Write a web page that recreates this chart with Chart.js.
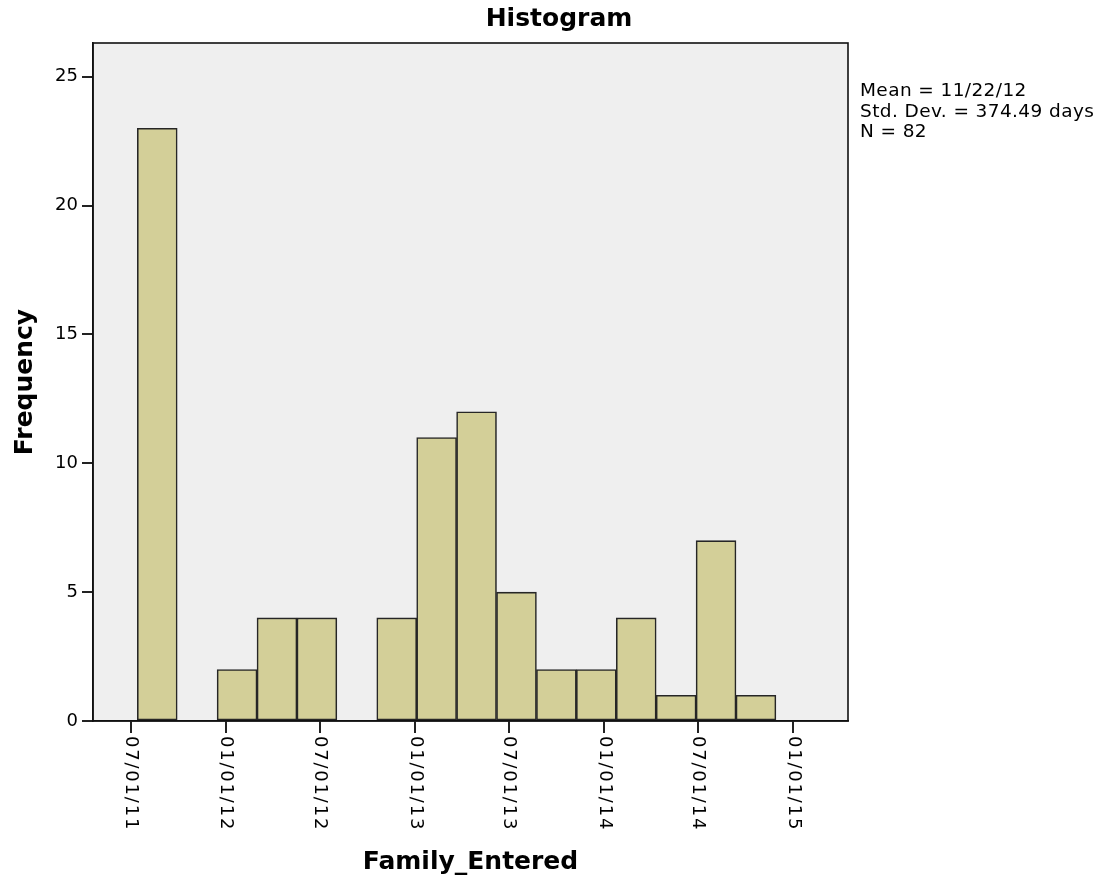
<!DOCTYPE html>
<html>
<head>
<meta charset="utf-8">
<script src="https://cdn.jsdelivr.net/npm/chart.js@4.4.1/dist/chart.umd.min.js"></script>
<style>
  html, body { margin: 0; padding: 0; background: #fff; }
</style>
</head>
<body>
<canvas id="histChart" width="1098" height="883"></canvas>
<script>
// x values are days after 07/01/11; each bin is about 77 days wide
var binCenters = [51.3, 128.4, 205.5, 282.6, 359.7, 436.8, 513.9, 591.0, 668.1, 745.2, 822.3, 899.4, 976.5, 1053.6, 1130.7, 1207.8];
var frequencies = [23, 0, 2, 4, 4, 0, 4, 11, 12, 5, 2, 2, 4, 1, 7, 1];

var dateTickValues = [0, 184, 366, 550, 731, 915, 1096, 1280];
var dateTickLabels = ["07/01/11", "01/01/12", "07/01/12", "01/01/13", "07/01/13", "01/01/14", "07/01/14", "01/01/15"];
var freqTickValues = [0, 5, 10, 15, 20, 25];

var statsLines = ["Mean = 11/22/12", "Std. Dev. = 374.49 days", "N = 82"];

var FONT = "'DejaVu Sans', sans-serif";

var points = binCenters.map(function (c, i) { return { x: c, y: frequencies[i] }; });

// grey plot background, frame, rotated date labels, title and stats box
var spssLook = {
  id: 'spssLook',
  beforeDraw: function (chart) {
    var a = chart.chartArea, ctx = chart.ctx;
    ctx.save();
    ctx.fillStyle = '#efefef';
    ctx.fillRect(a.left, a.top, a.right - a.left, a.bottom - a.top);
    ctx.restore();
  },
  afterDatasetsDraw: function (chart) {
    var a = chart.chartArea, ctx = chart.ctx;
    ctx.save();
    ctx.strokeStyle = '#111';
    ctx.lineWidth = 1.6;
    ctx.strokeRect(a.left, a.top, a.right - a.left, a.bottom - a.top);
    ctx.restore();
  },
  afterDraw: function (chart) {
    var ctx = chart.ctx, xs = chart.scales.x;
    ctx.save();
    ctx.fillStyle = '#000';
    ctx.font = '18px ' + FONT;
    ctx.letterSpacing = '1.8px';
    ctx.textAlign = 'left';
    ctx.textBaseline = 'middle';
    dateTickValues.forEach(function (v, i) {
      var px = xs.getPixelForValue(v);
      ctx.save();
      ctx.translate(px, xs.top + 15);
      ctx.rotate(Math.PI / 2);
      ctx.fillText(dateTickLabels[i], 0, 0);
      ctx.restore();
    });
    ctx.letterSpacing = '0px';

    ctx.font = 'bold 25px ' + FONT;
    ctx.textAlign = 'center';
    ctx.fillText('Histogram', 559, 19);

    ctx.font = '18.5px ' + FONT;
    ctx.letterSpacing = '0.4px';
    ctx.textAlign = 'left';
    statsLines.forEach(function (t, i) {
      ctx.fillText(t, 860, 91 + i * 20.7);
    });
    ctx.restore();
  }
};

new Chart(document.getElementById('histChart').getContext('2d'), {
  type: 'bar',
  data: {
    datasets: [{
      data: points,
      backgroundColor: '#d3cf98',
      borderColor: '#262626',
      borderWidth: 1.6,
      borderSkipped: false,
      barPercentage: 1,
      categoryPercentage: 1
    }]
  },
  options: {
    responsive: false,
    animation: false,
    layout: { padding: { top: 43, right: 250, left: 0, bottom: 0 } },
    plugins: {
      legend: { display: false },
      tooltip: { enabled: false },
      title: { display: false }
    },
    scales: {
      x: {
        type: 'linear',
        min: -72.8,
        max: 1385.6,
        offset: false,
        afterBuildTicks: function (scale) {
          scale.ticks = dateTickValues.map(function (v) { return { value: v }; });
        },
        afterFit: function (scale) { scale.height = 162; },
        ticks: { display: false },
        grid: { offset: false, drawOnChartArea: false, drawTicks: true, tickLength: 12, color: '#222', lineWidth: 2 },
        border: { display: true, color: '#111', width: 1.6 },
        title: {
          display: true,
          text: 'Family_Entered',
          color: '#000',
          font: { family: FONT, size: 25, weight: 'bold' },
          padding: { top: 0, bottom: 6 }
        }
      },
      y: {
        min: 0,
        max: 26.31,
        afterBuildTicks: function (scale) {
          scale.ticks = freqTickValues.map(function (v) { return { value: v }; });
        },
        afterFit: function (scale) { scale.width = 93; },
        ticks: { color: '#000', font: { family: FONT, size: 18 }, padding: 4 },
        grid: { drawOnChartArea: false, drawTicks: true, tickLength: 11, color: '#222', lineWidth: 2 },
        border: { display: true, color: '#111', width: 1.6 },
        title: {
          display: true,
          text: 'Frequency',
          color: '#000',
          font: { family: FONT, size: 25, weight: 'bold' },
          padding: { top: 10, bottom: 0 }
        }
      }
    }
  },
  plugins: [spssLook]
});
</script>
</body>
</html>
